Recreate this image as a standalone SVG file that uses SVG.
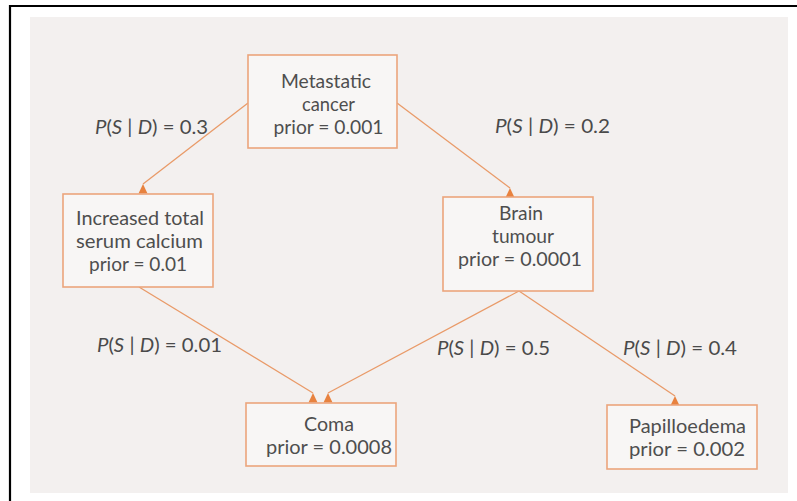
<svg xmlns="http://www.w3.org/2000/svg" width="797" height="501" viewBox="0 0 797 501">
  <defs>
    <style>
      .frame { fill: none; stroke: #000; stroke-width: 2.2; }
      .page { fill: #f3f0ef; }
      .box { fill: #f8f6f5; stroke: #eba57c; stroke-width: 1.6; }
      .txt { font-family: Lato, "Open Sans", "DejaVu Sans", sans-serif; font-size: 19px; fill: #4e4e4e; text-anchor: middle; }
      .lbl { font-family: Lato, "Open Sans", "DejaVu Sans", sans-serif; font-size: 19px; fill: #4a4a4a; text-anchor: middle; }
      .it { font-style: italic; }
      .edge { fill: none; stroke: #e99a68; stroke-width: 1.3; marker-end: url(#head); }
    </style>
    <!-- upright arrowhead sitting on the top edge of the target box -->
    <marker id="head" markerUnits="userSpaceOnUse" orient="0" markerWidth="12" markerHeight="12" viewBox="-6 -1 12 12" refX="0" refY="0">
      <path d="M0,0 L-4.5,9.5 L4.5,9.5 Z" fill="#e8823f"/>
    </marker>
  </defs>

  <!-- page frame and shaded page -->
  <rect x="0" y="0" width="797" height="501" fill="#fff"/>
  <path class="frame" d="M10,501 V6 H797"/>
  <rect class="page" x="30" y="17" width="758" height="476"/>

  <g id="connectors">
    <line class="edge" x1="248" y1="103" x2="143" y2="184"/>
    <line class="edge" x1="397" y1="103" x2="510" y2="188"/>
    <line class="edge" x1="139" y1="287" x2="313" y2="393"/>
    <line class="edge" x1="519" y1="291" x2="328" y2="393"/>
    <line class="edge" x1="519" y1="291" x2="675" y2="396"/>
  </g>

  <g id="edge-labels">
    <text class="lbl" x="151.5" y="134" textLength="113" lengthAdjust="spacingAndGlyphs"><tspan class="it">P</tspan>(<tspan class="it">S</tspan> | <tspan class="it">D</tspan>) = 0.3</text>
    <text class="lbl" x="552.5" y="133" textLength="115" lengthAdjust="spacingAndGlyphs"><tspan class="it">P</tspan>(<tspan class="it">S</tspan> | <tspan class="it">D</tspan>) = 0.2</text>
    <text class="lbl" x="159.5" y="352" textLength="125" lengthAdjust="spacingAndGlyphs"><tspan class="it">P</tspan>(<tspan class="it">S</tspan> | <tspan class="it">D</tspan>) = 0.01</text>
    <text class="lbl" x="493.5" y="355" textLength="113" lengthAdjust="spacingAndGlyphs"><tspan class="it">P</tspan>(<tspan class="it">S</tspan> | <tspan class="it">D</tspan>) = 0.5</text>
    <text class="lbl" x="680" y="355" textLength="114" lengthAdjust="spacingAndGlyphs"><tspan class="it">P</tspan>(<tspan class="it">S</tspan> | <tspan class="it">D</tspan>) = 0.4</text>
  </g>

  <g id="metastatic-cancer">
    <rect class="box" x="248" y="55" width="149" height="93"/>
    <text class="txt" x="326" y="88" textLength="90" lengthAdjust="spacingAndGlyphs">Metastatic</text>
    <text class="txt" x="328.5" y="110.5" textLength="53" lengthAdjust="spacingAndGlyphs">cancer</text>
    <text class="txt" x="328.5" y="133.5" textLength="110" lengthAdjust="spacingAndGlyphs">prior = 0.001</text>
  </g>

  <g id="serum-calcium">
    <rect class="box" x="63" y="194" width="150" height="93"/>
    <text class="txt" x="140" y="225" textLength="128" lengthAdjust="spacingAndGlyphs">Increased total</text>
    <text class="txt" x="139.5" y="248" textLength="127" lengthAdjust="spacingAndGlyphs">serum calcium</text>
    <text class="txt" x="138" y="271" textLength="98" lengthAdjust="spacingAndGlyphs">prior = 0.01</text>
  </g>

  <g id="brain-tumour">
    <rect class="box" x="443" y="197" width="150" height="94"/>
    <text class="txt" x="521" y="220" textLength="44" lengthAdjust="spacingAndGlyphs">Brain</text>
    <text class="txt" x="523" y="243" textLength="62" lengthAdjust="spacingAndGlyphs">tumour</text>
    <text class="txt" x="520" y="266" textLength="124" lengthAdjust="spacingAndGlyphs">prior = 0.0001</text>
  </g>

  <g id="coma">
    <rect class="box" x="246" y="403" width="150" height="63"/>
    <text class="txt" x="329" y="431" textLength="50" lengthAdjust="spacingAndGlyphs">Coma</text>
    <text class="txt" x="329" y="454" textLength="126" lengthAdjust="spacingAndGlyphs">prior = 0.0008</text>
  </g>

  <g id="papilloedema">
    <rect class="box" x="607" y="405" width="150" height="64"/>
    <text class="txt" x="687.5" y="433" textLength="117" lengthAdjust="spacingAndGlyphs">Papilloedema</text>
    <text class="txt" x="687" y="456" textLength="116" lengthAdjust="spacingAndGlyphs">prior = 0.002</text>
  </g>
</svg>
